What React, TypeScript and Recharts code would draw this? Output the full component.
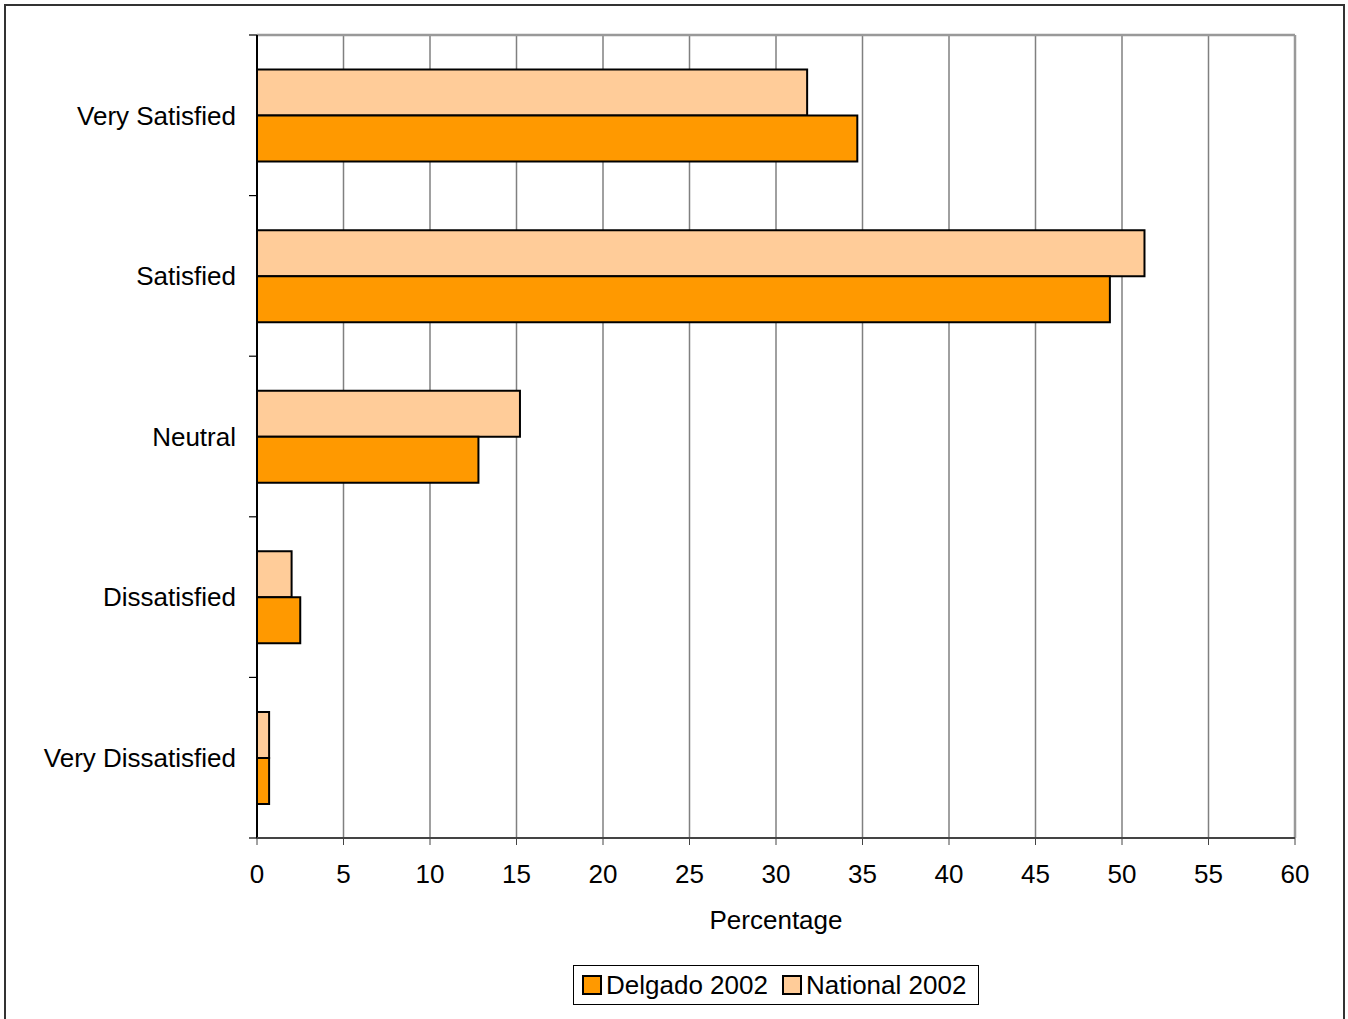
import React from 'react';
import { BarChart, Bar, XAxis, YAxis, CartesianGrid, Legend, ReferenceLine } from 'recharts';

const categories = ['Very Satisfied', 'Satisfied', 'Neutral', 'Dissatisfied', 'Very Dissatisfied'];
const delgado2002 = [34.7, 49.3, 12.8, 2.5, 0.7];
const national2002 = [31.8, 51.3, 15.2, 2.0, 0.7];
const xTicks = [0, 5, 10, 15, 20, 25, 30, 35, 40, 45, 50, 55, 60];

const series = [
  { key: 'delgado', name: 'Delgado 2002', color: '#FF9900' },
  { key: 'national', name: 'National 2002', color: '#FFCC99' },
];

const data = categories.map((c, i) => ({ category: c, delgado: delgado2002[i], national: national2002[i] }));

const FONT = '"Liberation Sans", Arial, sans-serif';

const CategoryTick = (props: any) => {
  const { x, y, payload, index, visibleTicksCount } = props;
  const half = payload && typeof payload.offset === 'number' ? payload.offset : 0;
  const axisX = x + 19;
  const isLast = index === (visibleTicksCount ?? categories.length) - 1;
  return (
    <g>
      {half > 0 && <line x1={axisX - 8} x2={axisX} y1={y - half} y2={y - half} stroke="#000" strokeWidth={1.2} />}
      {half > 0 && isLast && <line x1={axisX - 8} x2={axisX} y1={y + half} y2={y + half} stroke="#000" strokeWidth={1.2} />}
      <text x={x - 2} y={y} dy="0.355em" textAnchor="end" fill="#000" fontSize={26}>
        {payload.value}
      </text>
    </g>
  );
};

const renderLegend = () => (
  <div
    style={{
      boxSizing: 'border-box',
      width: 406,
      height: 40,
      border: '1px solid #000',
      display: 'flex',
      alignItems: 'center',
      paddingLeft: 8,
      fontFamily: FONT,
      fontSize: 26,
      color: '#000',
      background: '#fff',
    }}
  >
    {series.map((s, i) => (
      <div key={s.key} style={{ display: 'flex', alignItems: 'center', marginRight: i === 0 ? 14 : 0 }}>
        <span
          style={{
            display: 'inline-block',
            boxSizing: 'border-box',
            width: 20,
            height: 20,
            background: s.color,
            border: '2px solid #000',
            marginRight: 4,
          }}
        />
        <span style={{ lineHeight: '26px' }}>{s.name}</span>
      </div>
    ))}
  </div>
);

export default function App() {
  return (
    <div style={{ position: 'absolute', left: 0, top: 0, width: 1348, height: 1019, background: '#fff', fontFamily: FONT, overflow: 'hidden' }}>
      <div
        style={{
          position: 'absolute',
          left: 4,
          top: 4,
          width: 1341,
          height: 1040,
          boxSizing: 'border-box',
          border: '2px solid #333',
        }}
      />
      <div style={{ position: 'absolute', left: 0, top: 0 }}>
        <BarChart
          width={1348}
          height={1019}
          data={data}
          layout="vertical"
          margin={{ top: 35, right: 53, left: 0, bottom: 14 }}
          barCategoryGap="21.5%"
          barGap={0}
        >
          <CartesianGrid vertical horizontal={false} stroke="#808080" strokeWidth={1.5} />
          <YAxis
            type="category"
            dataKey="category"
            width={257}
            axisLine={{ stroke: '#000', strokeWidth: 2 }}
            tickLine={false}
            tickSize={7}
            tickMargin={12}
            tick={<CategoryTick />}
          />
          <XAxis
            type="number"
            domain={[0, 60]}
            ticks={xTicks}
            interval={0}
            height={127}
            axisLine={{ stroke: '#444', strokeWidth: 2 }}
            tickLine={{ stroke: '#444', strokeWidth: 1 }}
            tickSize={7}
            tickMargin={20}
            tick={{ fill: '#000', fontSize: 26 }}
            label={{ value: 'Percentage', position: 'insideTop', offset: 73, fill: '#000', fontSize: 26 }}
          />
          <ReferenceLine y={categories[0]} position="start" stroke="#999" strokeWidth={2.5} />
          <ReferenceLine x={60} stroke="#999" strokeWidth={2.5} />
          <Legend
            verticalAlign="bottom"
            content={renderLegend}
            wrapperStyle={{ left: 573, bottom: 14, width: 406, height: 40 }}
          />
          <Bar dataKey="national" name="National 2002" fill="#FFCC99" stroke="#000" strokeWidth={2} isAnimationActive={false} />
          <Bar dataKey="delgado" name="Delgado 2002" fill="#FF9900" stroke="#000" strokeWidth={2} isAnimationActive={false} />
        </BarChart>
      </div>
    </div>
  );
}
